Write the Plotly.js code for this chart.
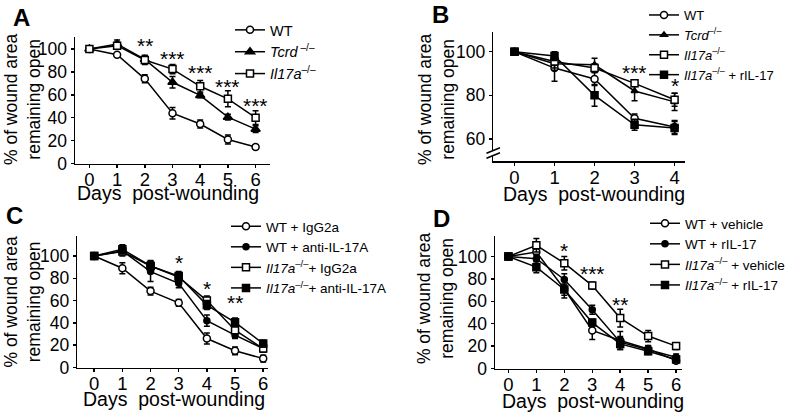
<!DOCTYPE html>
<html>
<head>
<meta charset="utf-8">
<script src="https://cdn.plot.ly/plotly-3.0.1.min.js"></script>
<style>html,body{margin:0;padding:0;background:#fff;}#chart{width:798px;height:415px;}</style>
</head>
<body>
<div id="chart"></div>
<script>
// ---------- Panel A ----------
const daysA = [0, 1, 2, 3, 4, 5, 6];
const A_WT = [100, 95, 74, 44, 34.5, 21, 14.5];
const A_WT_err = [0, 1, 3.5, 5, 3.5, 4, 2];
const A_Tcrd = [100, 104.5, 91, 71, 59.5, 40.5, 30];
const A_Tcrd_err = [0, 3.5, 3, 5, 2, 2.5, 3];
const A_Il17a = [100, 103, 90.5, 82.5, 67.5, 56.5, 40];
const A_Il17a_err = [0, 3, 4, 4, 5, 7, 6];
const A_starDays = [2, 3, 4, 5, 6];
const A_starY = [104, 93, 80, 68, 52];
const A_stars = ['**', '***', '***', '***', '***'];

// ---------- Panel B ----------
const daysB = [0, 1, 2, 3, 4];
const B_WT = [100, 92.5, 87.5, 69.5, 65.5];
const B_WT_err = [0, 6, 3, 2, 3];
const B_Tcrd = [100, 94.5, 94, 82, 77];
const B_Tcrd_err = [0, 3, 3, 4.5, 4];
const B_Il17a = [100, 95.5, 92.5, 85.5, 78];
const B_Il17a_err = [0, 3, 2, 1.5, 3];
const B_Il17aR = [100, 98, 80, 66.5, 65];
const B_Il17aR_err = [0, 2, 5, 2.5, 3];
const B_starDays = [3, 4];
const B_starY = [90.8, 85];
const B_stars = ['***', '*'];

// ---------- Panel C ----------
const daysC = [0, 1, 2, 3, 4, 5, 6];
const C_WTIg = [100, 89, 68.5, 58, 26, 15, 8];
const C_WTIg_err = [0, 5, 3.5, 3, 5, 3.5, 3];
const C_WTanti = [100, 104.5, 86, 75.5, 42, 29, 17];
const C_WTanti_err = [0, 3, 9, 4, 5, 3, 3];
const C_KOIg = [100, 104, 91, 81, 60, 33.5, 17];
const C_KOIg_err = [0, 4, 4, 4, 4, 3, 3];
const C_KOanti = [100, 106, 91, 82, 56, 40.5, 21.5];
const C_KOanti_err = [0, 4, 5, 4, 4, 4, 3];
const C_starDays = [3, 4, 5];
const C_starY = [94.7, 71.8, 59];
const C_stars = ['*', '*', '**'];

// ---------- Panel D ----------
const daysD = [0, 1, 2, 3, 4, 5, 6];
const D_WTveh = [100, 104, 71, 34, 25, 17.5, 7];
const D_WTveh_err = [0, 3, 8, 8, 8, 3, 2];
const D_WTr = [100, 98, 79.5, 52.5, 23.5, 17, 10];
const D_WTr_err = [0, 4, 5, 4, 5, 3, 3];
const D_KOveh = [100, 110, 94, 74, 45, 29, 20];
const D_KOveh_err = [0, 6, 6, 3, 8, 5, 3];
const D_KOr = [100, 90.5, 70.5, 41, 22, 15.5, 8];
const D_KOr_err = [0, 5, 5, 3, 5, 3, 2];
const D_starDays = [2, 3, 4];
const D_starY = [106.5, 85.8, 58.3];
const D_stars = ['*', '***', '**'];

const X_TITLE = 'Days\u00a0\u00a0post-wounding';
const Y_TITLE = '% of wound area<br>remaining open';

const FONT = 'Arial, "Liberation Sans", Helvetica, sans-serif';
const KO = '<i>Il17a</i><sup>–/–</sup>';

function tr(x, y, err, name, symbol, fill, ax, leg, size) {
  return {
    type: 'scatter', mode: 'lines+markers', x: x, y: y, name: name,
    xaxis: 'x' + ax, yaxis: 'y' + ax, legend: leg,
    line: {color: '#000', width: 1.5},
    marker: {symbol: symbol, size: size || 7, color: fill, line: {color: '#000', width: 1.5}},
    error_y: {type: 'data', array: err, visible: true, color: '#000', thickness: 1.5, width: 3}
  };
}

const data = [
  tr(daysA, A_WT, A_WT_err, 'WT', 'circle', '#fff', '', 'legend'),
  tr(daysA, A_Tcrd, A_Tcrd_err, '<i>Tcrd</i><sup> –/–</sup>', 'triangle-up', '#000', '', 'legend', 8),
  tr(daysA, A_Il17a, A_Il17a_err, KO, 'square', '#fff', '', 'legend'),

  tr(daysB, B_WT, B_WT_err, 'WT', 'circle', '#fff', '2', 'legend2'),
  tr(daysB, B_Tcrd, B_Tcrd_err, '<i>Tcrd</i><sup>–/–</sup>', 'triangle-up', '#000', '2', 'legend2', 6),
  tr(daysB, B_Il17a, B_Il17a_err, KO, 'square', '#fff', '2', 'legend2'),
  tr(daysB, B_Il17aR, B_Il17aR_err, KO + ' + rIL-17', 'square', '#000', '2', 'legend2'),

  tr(daysC, C_WTIg, C_WTIg_err, 'WT + IgG2a', 'circle', '#fff', '3', 'legend3'),
  tr(daysC, C_WTanti, C_WTanti_err, 'WT + anti-IL-17A', 'circle', '#000', '3', 'legend3', 6),
  tr(daysC, C_KOIg, C_KOIg_err, KO + '+ IgG2a', 'square', '#fff', '3', 'legend3'),
  tr(daysC, C_KOanti, C_KOanti_err, KO + '+ anti-IL-17A', 'square', '#000', '3', 'legend3'),

  tr(daysD, D_WTveh, D_WTveh_err, 'WT + vehicle', 'circle', '#fff', '4', 'legend4'),
  tr(daysD, D_WTr, D_WTr_err, 'WT + rIL-17', 'circle', '#000', '4', 'legend4', 6),
  tr(daysD, D_KOveh, D_KOveh_err, KO + ' + vehicle', 'square', '#fff', '4', 'legend4'),
  tr(daysD, D_KOr, D_KOr_err, KO + ' + rIL-17', 'square', '#000', '4', 'legend4')
];

const W = 798, H = 415;
const px = v => v / W, py = v => 1 - v / H;

function xax(d0, d1, range, anchor) {
  return {
    domain: [px(d0), px(d1)], range: range, anchor: anchor,
    showline: true, linecolor: '#000', linewidth: 1.5, ticks: 'outside', ticklen: 3, tickwidth: 1.5,
    tickcolor: '#000', showgrid: false, zeroline: false, dtick: 1, tick0: 0, ticklabelstandoff: -4,
    tickfont: {family: FONT, size: 18.5, color: '#000'}
  };
}
function yax(top, bot, range, anchor, tickvals) {
  return {
    domain: [py(bot), py(top)], range: range, anchor: anchor,
    showline: true, linecolor: '#000', linewidth: 1.5, ticks: 'outside', ticklen: 3, tickwidth: 1.5,
    tickcolor: '#000', showgrid: false, zeroline: false, tickvals: tickvals,
    tickfont: {family: FONT, size: 17.5, color: '#000'}
  };
}

function stars(days, ys, labels, ax) {
  return days.map((d, i) => ({
    x: d, y: ys[i], text: labels[i], xref: 'x' + ax, yref: 'y' + ax,
    showarrow: false, font: {family: FONT, size: 21, color: '#000'}, yanchor: 'middle', yshift: -1
  }));
}
function letter(t, x, y) {
  return {text: '<b>' + t + '</b>', x: px(x), y: py(y), xref: 'paper', yref: 'paper',
    showarrow: false, xanchor: 'center', yanchor: 'middle', font: {family: FONT, size: 24, color: '#000'}};
}
function xtitle(cx, top) {
  return {text: X_TITLE, x: px(cx), y: py(top), xref: 'paper', yref: 'paper', showarrow: false,
    xanchor: 'center', yanchor: 'top', font: {family: FONT, size: 19.5, color: '#000'}};
}
function ytitle(cx, cy) {
  return {text: Y_TITLE, x: px(cx), y: py(cy), xref: 'paper', yref: 'paper', showarrow: false,
    xanchor: 'center', yanchor: 'middle', textangle: -90, font: {family: FONT, size: 17.5, color: '#000'}};
}

const legBase = {bgcolor: 'rgba(0,0,0,0)', xanchor: 'left', yanchor: 'top', itemwidth: 30, tracegroupgap: 0};

const layout = {
  width: W, height: H, margin: {l: 0, r: 0, t: 0, b: 0},
  paper_bgcolor: '#fff', plot_bgcolor: '#fff', showlegend: true,
  font: {family: FONT, color: '#000'},
  xaxis: xax(75, 270, [-0.52, 6.52], 'y'),
  yaxis: yax(35, 162.3, [0, 110.7], 'x', [0, 20, 40, 60, 80, 100]),
  xaxis2: xax(493.3, 685, [-0.53, 4.26], 'y2'),
  yaxis2: yax(30, 160, [49.8, 109.1], 'x2', [60, 80, 100]),
  xaxis3: xax(77.3, 268, [-0.6, 6.17], 'y3'),
  yaxis3: yax(235, 367.3, [0, 118], 'x3', [0, 20, 40, 60, 80, 100]),
  xaxis4: xax(495, 681.7, [-0.48, 6.2], 'y4'),
  yaxis4: yax(235, 368.3, [0, 118.4], 'x4', [0, 20, 40, 60, 80, 100]),
  legend: Object.assign({}, legBase, {x: px(230), y: py(12), font: {family: FONT, size: 14.5, color: '#000'}}),
  legend2: Object.assign({}, legBase, {x: px(644), y: py(-2), font: {family: FONT, size: 13, color: '#000'}}),
  legend3: Object.assign({}, legBase, {x: px(226), y: py(210), font: {family: FONT, size: 13.5, color: '#000'}}),
  legend4: Object.assign({}, legBase, {x: px(645), y: py(207), font: {family: FONT, size: 13.5, color: '#000'}}),
  annotations: [].concat(
    stars(A_starDays, A_starY, A_stars, ''),
    stars(B_starDays, B_starY, B_stars, '2'),
    stars(C_starDays, C_starY, C_stars, '3'),
    stars(D_starDays, D_starY, D_stars, '4'),
    [letter('A', 21, 16), letter('B', 440, 13), letter('C', 14, 215), letter('D', 441, 218)],
    [xtitle(167.5, 179), xtitle(594, 180), xtitle(174, 386), xtitle(592.5, 388)],
    [ytitle(22.5, 98), ytitle(436, 97.5), ytitle(22.5, 301.5), ytitle(435, 297.5)]
  ),
  shapes: [
    {type: 'rect', xref: 'paper', yref: 'paper', x0: px(491), x1: px(496), y0: py(154), y1: py(149), fillcolor: '#fff', line: {width: 0}},
    {type: 'line', xref: 'paper', yref: 'paper', x0: px(486.5), y0: py(152), x1: px(500), y1: py(146.5), line: {color: '#000', width: 1.5}},
    {type: 'line', xref: 'paper', yref: 'paper', x0: px(486.5), y0: py(157), x1: px(500), y1: py(151.5), line: {color: '#000', width: 1.5}}
  ]
};

Plotly.newPlot('chart', data, layout, {staticPlot: true, displayModeBar: false});
</script>
</body>
</html>
